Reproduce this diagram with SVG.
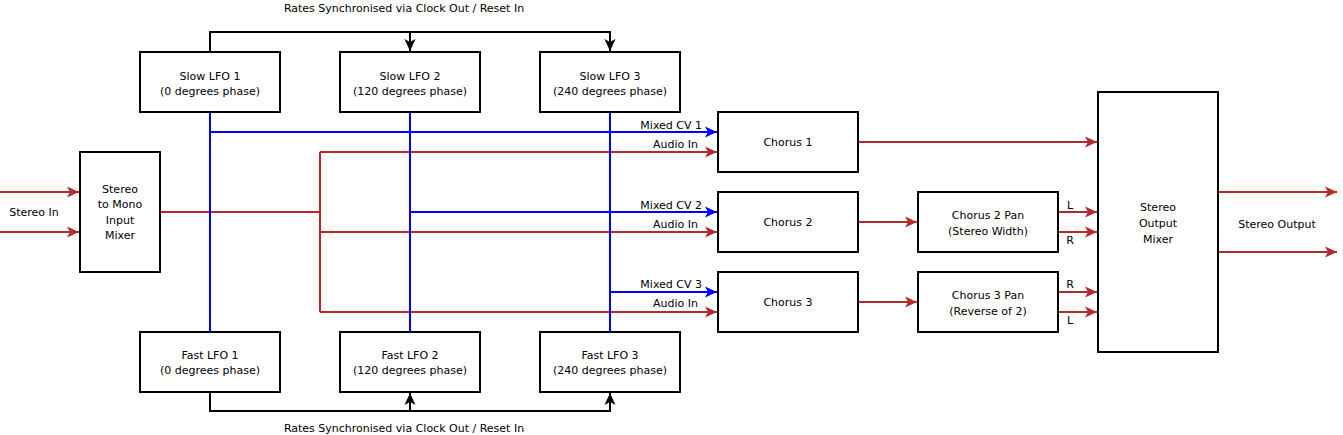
<svg xmlns="http://www.w3.org/2000/svg" width="1343" height="435" viewBox="0 0 1343 435">
<style>
.box{fill:#fff;stroke:#000;stroke-width:2}
text{font-family:"DejaVu Sans",Verdana,sans-serif;font-size:11px;fill:#000;text-anchor:middle}
.r{fill:none;stroke:#b22a2a;stroke-width:2}
.b{fill:none;stroke:#0000ff;stroke-width:2}
.k{fill:none;stroke:#000;stroke-width:2}
.end{text-anchor:end}
</style>
<defs>
<marker id="ar" markerUnits="userSpaceOnUse" markerWidth="14" markerHeight="12" refX="12" refY="6" orient="auto"><path d="M0,0.5 L12,6 L0,11.5 L3,6 z" fill="#b22a2a"/></marker>
<marker id="ab" markerUnits="userSpaceOnUse" markerWidth="14" markerHeight="12" refX="12" refY="6" orient="auto"><path d="M0,0.5 L12,6 L0,11.5 L3,6 z" fill="#0000ff"/></marker>
<marker id="ak" markerUnits="userSpaceOnUse" markerWidth="14" markerHeight="12" refX="12" refY="6" orient="auto"><path d="M0,0.5 L12,6 L0,11.5 L3,6 z" fill="#000"/></marker>
</defs>
<g id="connectors">
<path class="k" d="M210,52 V32 H610 V51" marker-end="url(#ak)"/>
<path class="k" d="M410,32 V51" marker-end="url(#ak)"/>
<path class="k" d="M210,392 V411 H610 V393" marker-end="url(#ak)"/>
<path class="k" d="M410,411 V393" marker-end="url(#ak)"/>
<path class="r" d="M0,192 H79" marker-end="url(#ar)"/>
<path class="r" d="M0,232 H79" marker-end="url(#ar)"/>
<path class="r" d="M160,212 H320"/>
<path class="r" d="M320,152 V312"/>
<path class="r" d="M320,152 H717" marker-end="url(#ar)"/>
<path class="r" d="M320,232 H717" marker-end="url(#ar)"/>
<path class="r" d="M320,312 H717" marker-end="url(#ar)"/>
<path class="b" d="M210,112 V332"/>
<path class="b" d="M410,112 V332"/>
<path class="b" d="M610,112 V332"/>
<path class="b" d="M210,132 H717" marker-end="url(#ab)"/>
<path class="b" d="M410,212 H717" marker-end="url(#ab)"/>
<path class="b" d="M610,292 H717" marker-end="url(#ab)"/>
<path class="r" d="M858,142 H1097" marker-end="url(#ar)"/>
<path class="r" d="M858,222 H917" marker-end="url(#ar)"/>
<path class="r" d="M858,302 H917" marker-end="url(#ar)"/>
<path class="r" d="M1058,212 H1097" marker-end="url(#ar)"/>
<path class="r" d="M1058,232 H1097" marker-end="url(#ar)"/>
<path class="r" d="M1058,292 H1097" marker-end="url(#ar)"/>
<path class="r" d="M1058,312 H1097" marker-end="url(#ar)"/>
<path class="r" d="M1218,192 H1337" marker-end="url(#ar)"/>
<path class="r" d="M1218,252 H1337" marker-end="url(#ar)"/>
<text x="404" y="12">Rates Synchronised via Clock Out / Reset In</text>
<text x="404" y="432">Rates Synchronised via Clock Out / Reset In</text>
<text x="34" y="216">Stereo In</text>
<text class="end" x="702" y="129">Mixed CV 1</text>
<text class="end" x="698" y="148">Audio In</text>
<text class="end" x="702" y="209">Mixed CV 2</text>
<text class="end" x="698" y="228">Audio In</text>
<text class="end" x="702" y="288">Mixed CV 3</text>
<text class="end" x="698" y="307">Audio In</text>
<text x="1070" y="209">L</text>
<text x="1070" y="244">R</text>
<text x="1070" y="288">R</text>
<text x="1070" y="324">L</text>
<text x="1277" y="228">Stereo Output</text>
</g>
<g id="slow1"><rect class="box" x="140" y="52" width="140" height="60"/><text x="210" y="80">Slow LFO 1</text><text x="210" y="95">(0 degrees phase)</text></g>
<g id="slow2"><rect class="box" x="340" y="52" width="140" height="60"/><text x="410" y="80">Slow LFO 2</text><text x="410" y="95">(120 degrees phase)</text></g>
<g id="slow3"><rect class="box" x="540" y="52" width="140" height="60"/><text x="610" y="80">Slow LFO 3</text><text x="610" y="95">(240 degrees phase)</text></g>
<g id="fast1"><rect class="box" x="140" y="332" width="140" height="60"/><text x="210" y="359">Fast LFO 1</text><text x="210" y="374">(0 degrees phase)</text></g>
<g id="fast2"><rect class="box" x="340" y="332" width="140" height="60"/><text x="410" y="359">Fast LFO 2</text><text x="410" y="374">(120 degrees phase)</text></g>
<g id="fast3"><rect class="box" x="540" y="332" width="140" height="60"/><text x="610" y="359">Fast LFO 3</text><text x="610" y="374">(240 degrees phase)</text></g>
<g id="inmixer"><rect class="box" x="80" y="152" width="80" height="120"/><text x="120" y="193">Stereo</text><text x="120" y="208">to Mono</text><text x="120" y="224">Input</text><text x="120" y="239">Mixer</text></g>
<g id="chorus1"><rect class="box" x="718" y="112" width="140" height="60"/><text x="788" y="146">Chorus 1</text></g>
<g id="chorus2"><rect class="box" x="718" y="192" width="140" height="60"/><text x="788" y="226">Chorus 2</text></g>
<g id="chorus3"><rect class="box" x="718" y="272" width="140" height="60"/><text x="788" y="306">Chorus 3</text></g>
<g id="pan2"><rect class="box" x="918" y="192" width="140" height="60"/><text x="988" y="219">Chorus 2 Pan</text><text x="988" y="235">(Stereo Width)</text></g>
<g id="pan3"><rect class="box" x="918" y="272" width="140" height="60"/><text x="988" y="299">Chorus 3 Pan</text><text x="988" y="315">(Reverse of 2)</text></g>
<g id="outmixer"><rect class="box" x="1098" y="92" width="120" height="260"/><text x="1158" y="211">Stereo</text><text x="1158" y="227">Output</text><text x="1158" y="243">Mixer</text></g>
</svg>
